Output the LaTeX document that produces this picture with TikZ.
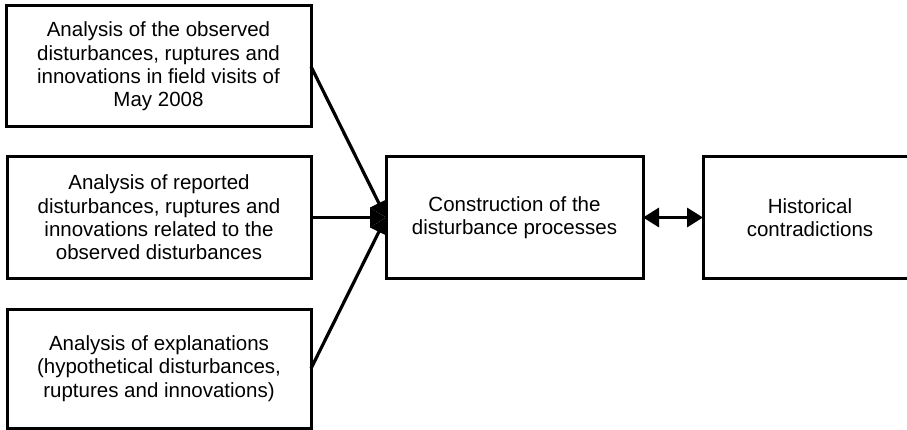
\documentclass[tikz,border=0pt]{standalone}
\usepackage{fontspec}
\setmainfont{Liberation Sans}
\usetikzlibrary{arrows.meta}
\begin{document}
\begin{tikzpicture}[x=1pt,y=-1pt,
  box/.style={draw=black,line width=3pt,rectangle,align=center,inner sep=0pt,outer sep=0pt,
    font=\fontsize{20.5}{23.3}\selectfont},
  conn/.style={line width=3.2pt,-{Triangle[length=16pt,width=19pt]}},
  dconn/.style={line width=3.2pt,{Triangle[length=16pt,width=19pt]}-{Triangle[length=16pt,width=19pt]}}]
\useasboundingbox (0,0) rectangle (907,430);
\node[box,minimum width=305pt,minimum height=121pt] (b1) at (158.5,66.5)
  {Analysis of the observed\\disturbances, ruptures and\\innovations in field visits of\\May 2008};
\node[box,minimum width=304pt,minimum height=121pt] (b2) at (159,217.5)
  {Analysis of reported\\disturbances, ruptures and\\innovations related to the\\observed disturbances};
\node[box,minimum width=304pt,minimum height=119pt] (b3) at (159,368.5)
  {Analysis of explanations\\(hypothetical disturbances,\\ruptures and innovations)};
\node[box,minimum width=257pt,minimum height=121pt] (c) at (514.5,217.5)
  {Construction of the\\disturbance processes};
\node[box,minimum width=214pt,minimum height=121pt] (r) at (810,217.5)
  {Historical\\contradictions};
\draw[conn] (b1.east) -- (c.west);
\draw[conn] (b2.east) -- (c.west);
\draw[conn] (b3.east) -- (c.west);
\draw[dconn] (c.east) -- (r.west);
\end{tikzpicture}
\end{document}
